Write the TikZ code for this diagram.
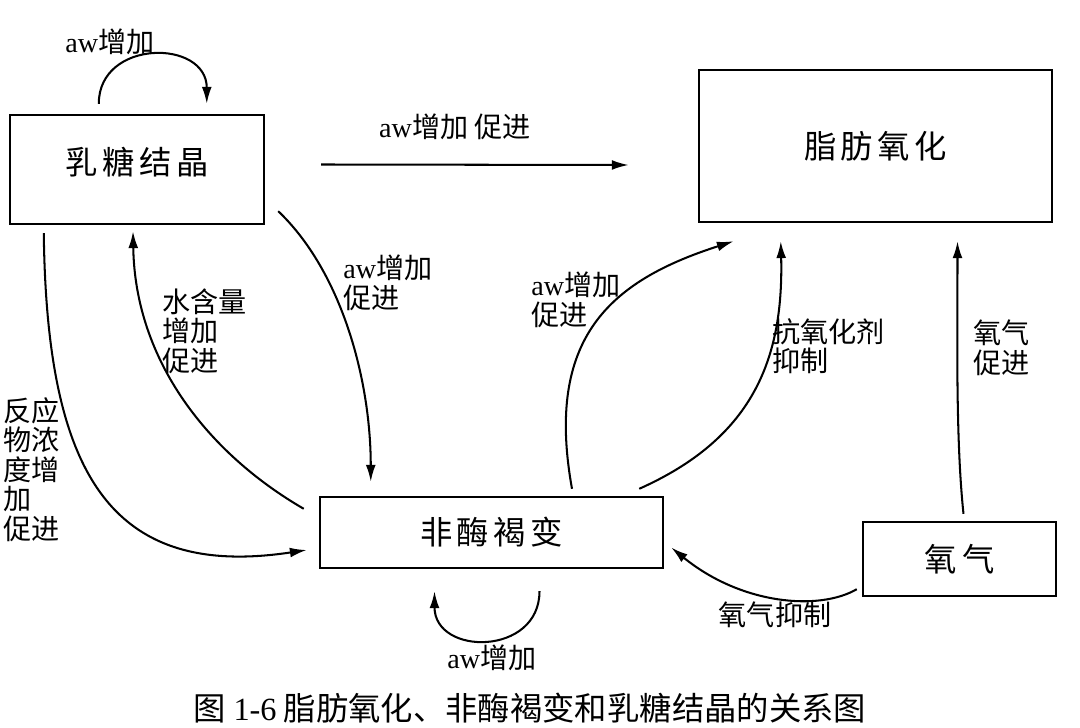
\documentclass[tikz,border=0pt]{standalone}
\usepackage{fontspec}
\setmainfont{Liberation Serif}
\newfontfamily\cjk{Noto Sans CJK SC}
\newfontfamily\cjkbox[LetterSpace=14]{Noto Sans CJK SC}
\usetikzlibrary{arrows.meta,calc}
\begin{document}
\begin{tikzpicture}[x=0.025cm, y=-0.025cm,
    box/.style={draw, line width=1.7pt, font=\cjkbox\fontsize{23}{27}\selectfont},
    lbl/.style={font=\cjk\fontsize{20}{21}\selectfont, align=left, inner sep=0pt},
    arr/.style={line width=1.45pt, -{Latex[length=12pt,width=7pt]}}]
  \useasboundingbox (0,0) rectangle (1080,728);
  \node [box, minimum width=6.35cm, minimum height=2.725cm] (rtjj) at (137,169.5) {\raisebox{0.45cm}{乳糖结晶}};
  \node [box, minimum width=8.825cm, minimum height=3.8cm] (zfyh) at (875.5,146) {脂肪氧化};
  \node [box, minimum width=8.575cm, minimum height=1.775cm] (fmhb) at (491.5,532.5) {非酶褐变};
  \node [box, minimum width=4.825cm, minimum height=1.85cm] (yq) at (959.5,559) {氧\hspace{4pt}气};

  \draw [arr] ($(rtjj.north west)+(90,-10)$) .. controls +(0,-65) and +(0,-65) .. ($(rtjj.north west)+(198,-10)$);
  \node [lbl] (aw1) at (110,42) {{\rmfamily aw}增加};
  \draw [arr] ($(rtjj.east)+(56,-5)$) -- ($(zfyh.west)+(-69,19)$);
  \node [lbl] (aw2) at (455,127) {{\rmfamily aw}增加 促进};
  \draw [arr] ($(rtjj.south east)+(13,-14)$) .. controls +(63,60) and +(0,-103) .. ($(fmhb.north west)+(52,-14)$);
  \node [lbl, anchor=north west] (aw3) at (343,255) {{\rmfamily aw}增加\\促进};
  \draw [arr] ($(fmhb.north west)+(-15,13)$) .. controls +(-95,-55) and +(2,130) .. ($(rtjj.south)+(-4,6)$);
  \node [lbl, anchor=north west] (sh) at (162,288) {水含量\\增加\\促进};
  \draw [arr] ($(rtjj.south west)+(35,8)$) .. controls +(3,238) and +(-198,30) .. ($(fmhb.west)+(-12,17.5)$);
  \node [lbl, anchor=north west] (fy) at (3,397) {反应\\物浓\\度增\\加\\促进};
  \draw [arr] ($(fmhb.south)+(48,22)$) .. controls +(0,65) and +(0,65) .. ($(fmhb.south)+(-57,22)$);
  \node [lbl] (aw4) at (492,658) {{\rmfamily aw}增加};
  \draw [arr] ($(fmhb.north)+(80.5,-7)$) .. controls +(-27,-150) and +(-125,40) .. ($(zfyh.south west)+(36,18)$);
  \node [lbl, anchor=north west] (aw5) at (531,272) {{\rmfamily aw}增加\\促进};
  \draw [arr] ($(fmhb.north east)+(-25,-7)$) .. controls +(112,-50) and +(3,120) .. ($(zfyh.south west)+(83,18)$);
  \node [lbl, anchor=north west] (kyh) at (772,318) {抗氧化剂\\抑制};
  \draw [arr] ($(yq.north)+(4,-7)$) .. controls +(-8,-75) and +(0,90) .. ($(zfyh.south)+(82,18)$);
  \node [lbl, anchor=north west] (yqcj) at (973,320) {氧气\\促进};
  \draw [arr] ($(yq.south west)+(-5,-8)$) .. controls +(-38,22) and +(70,57) .. ($(fmhb.east)+(7,15)$);
  \node [lbl] (yqyz) at (775,615) {氧气抑制};

  \node [font=\cjk\fontsize{23}{27}\selectfont, inner sep=0pt] (cap) at (530,708) {图\ {\rmfamily 1-6}\ 脂肪氧化、非酶褐变和乳糖结晶的关系图};
\end{tikzpicture}
\end{document}
